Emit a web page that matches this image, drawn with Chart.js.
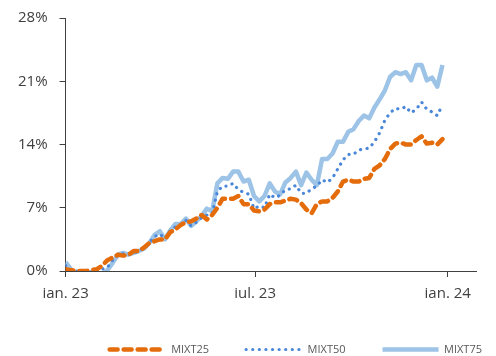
<!DOCTYPE html>
<html>
<head>
<meta charset="utf-8">
<script src="https://cdn.jsdelivr.net/npm/chart.js@4/dist/chart.umd.min.js"></script>
<style>
  html,body{margin:0;padding:0;background:#fff;}
  #wrap{width:496px;height:356px;}
</style>
</head>
<body>
<div id="wrap"><canvas id="grafic" width="496" height="356"></canvas></div>
<script>
/* ---------- date: zile de la 1 ian. 2023 ---------- */
const days = [0,5,10,15,20,25,30,35,40,45,50,55,60,65,70,75,80,85,90,95,
  100,105,110,115,120,125,130,135,140,145,150,155,160,165,170,175,180,185,190,195,
  200,205,210,215,220,225,230,235,240,245,250,255,260,265,270,275,280,285,290,295,
  300,305,310,315,320,325,330,335,340,345,350,355,360];

const mixt25 = [0.2,0.1,0,0,0,0.1,0.2,0.6,1.2,1.5,1.8,1.7,1.8,2.2,2.2,2.6,3.1,3.3,3.5,3.5,
  4.3,4.6,5.1,5.4,5.5,5.8,6.2,5.7,6.2,7.0,8.0,8.0,8.0,8.3,7.4,7.4,6.7,6.6,6.8,7.4,
  7.6,7.6,7.8,8.0,7.9,7.5,6.8,6.4,7.4,7.7,7.7,8.1,8.8,9.9,10.1,9.9,9.9,10.2,10.3,11.3,
  11.7,12.4,13.5,14.1,14.2,14.0,14.0,14.5,14.9,14.1,14.2,14.0,14.6];

const mixt50 = [0.6,0.1,0,-0.1,-0.1,-0.1,0,0.2,0.4,1.2,1.8,1.9,1.8,2.0,2.2,2.6,3.1,3.8,4.1,3.6,
  4.4,4.9,5.1,5.6,5.0,5.4,5.9,6.2,6.3,8.8,9.4,9.4,9.7,9.0,8.7,8.5,6.9,7.2,7.0,8.5,
  8.1,8.4,9.0,9.1,9.5,8.6,8.6,9.1,9.4,10.1,9.8,10.3,11.3,12.3,12.9,12.9,13.4,13.5,13.6,14.3,
  15.3,16.7,17.5,18.0,17.9,18.2,17.5,17.9,18.7,17.9,17.6,17.2,18.4];

const mixt75 = [1.0,0.2,-0.4,-0.4,-0.4,-0.4,-0.4,-0.4,0.1,0.9,1.8,2.0,1.8,2.0,2.2,2.5,3.1,4.0,4.4,3.5,
  4.5,5.2,5.2,5.8,5.0,5.5,6.1,6.9,6.6,9.7,10.3,10.2,11.0,11.0,9.9,10.1,8.3,7.7,8.3,9.7,
  8.8,8.5,9.8,10.3,11.0,9.5,10.9,10.1,9.5,12.4,12.4,13.0,14.3,14.3,15.4,15.7,16.6,17.2,16.9,18.1,
  19.0,20.0,21.5,22.0,21.8,22.0,21.1,22.8,22.8,21.1,21.4,20.4,22.8];

/* axa X: pozitii (zile) si etichete */
const tickDays   = [0,181,365];
const tickLabels = ['ian. 23','iul. 23','ian. 24'];
const yTicks     = [0,7,14,21,28];

const pts = arr => arr.map((v,i)=>({x:days[i],y:v}));
const FONT = "'Open Sans', 'Noto Sans', sans-serif";

/* legenda: liniile preiau stilul seriei (punctat / intrerupt) */
const legendLabels = chart =>
  Chart.defaults.plugins.legend.labels.generateLabels(chart).map((l,i)=>{
    const ds = chart.data.datasets[i];
    return {...l, lineDash:ds.borderDash||[], lineCap:ds.borderCapStyle,
            lineWidth:ds.borderWidth, strokeStyle:ds.borderColor, fillStyle:ds.borderColor};
  });

/* legenda e putin decalata spre dreapta */
const legendShift = {
  id:'legendShift',
  afterLayout(chart){ chart.legend.left += 43; chart.legend.right += 43; }
};

new Chart(document.getElementById('grafic'),{
  type:'line',
  data:{datasets:[
    {label:'MIXT25',data:pts(mixt25),borderColor:'#E46C0A',borderWidth:4.5,
     borderDash:[8,6],borderCapStyle:'round'},
    {label:'MIXT50',data:pts(mixt50),borderColor:'#4A87D9',borderWidth:3.2,
     borderDash:[0.1,6.5],borderCapStyle:'round'},
    {label:'MIXT75',data:pts(mixt75),borderColor:'#9DC3E6',borderWidth:4.5,
     borderCapStyle:'butt'}
  ]},
  plugins:[legendShift],
  options:{
    responsive:false,
    animation:false,
    elements:{point:{radius:0},line:{tension:0,borderJoinStyle:'round'}},
    layout:{padding:{top:4,right:20,left:6,bottom:-9}},
    plugins:{
      legend:{
        position:'bottom',align:'end',
        labels:{
          usePointStyle:true,pointStyle:'line',pointStyleWidth:56,
          generateLabels:legendLabels,
          color:'#595959',font:{family:FONT,size:11},padding:37
        }
      },
      tooltip:{enabled:false}
    },
    scales:{
      x:{
        type:'linear',min:0,max:392,
        afterBuildTicks:ax=>{ax.ticks=tickDays.map(v=>({value:v}));},
        afterFit:ax=>{ax.height-=4;},
        ticks:{color:'#404040',font:{family:FONT,size:15},padding:8,maxRotation:0,
          callback:v=>tickLabels[tickDays.indexOf(v)]},
        grid:{drawOnChartArea:false,drawTicks:true,tickLength:6,color:'#404040'},
        border:{color:'#404040',width:1}
      },
      y:{
        min:0,max:28,
        afterBuildTicks:ax=>{ax.ticks=yTicks.map(v=>({value:v}));},
        ticks:{color:'#404040',font:{family:FONT,size:15,lineHeight:0.8},padding:12,
          callback:v=>v+'%'},
        grid:{drawOnChartArea:false,drawTicks:true,tickLength:6,color:'#404040'},
        border:{color:'#404040',width:1}
      }
    }
  }
});
</script>
</body>
</html>
